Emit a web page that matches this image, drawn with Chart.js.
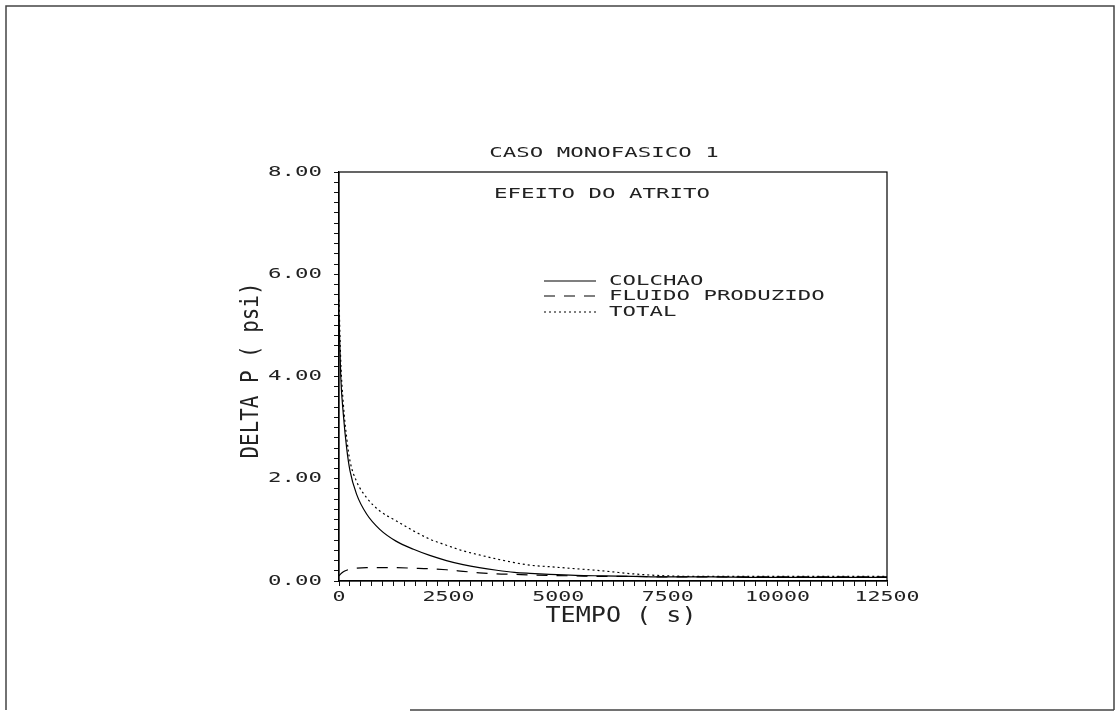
<!DOCTYPE html>
<html>
<head>
<meta charset="utf-8">
<script src="https://cdn.jsdelivr.net/npm/chart.js@4.4.1/dist/chart.umd.min.js"></script>
<style>
  html, body { margin: 0; padding: 0; background: #fff; }
  #wrap { position: relative; width: 1120px; height: 715px; }
</style>
</head>
<body>
<div id="wrap"><canvas id="grafico"></canvas></div>
<script>
// valores (tempo em s, delta P em psi)
var tempo   = [0, 40, 100, 175, 250, 400, 630, 930, 1300, 1700, 2070, 2450, 2830, 3200, 3600, 4000, 4350, 4800, 5400, 6000, 6700, 7500, 8500, 9500, 10500, 11500, 12500];
var colchao = [5.2, 4.0, 3.25, 2.6, 2.16, 1.7, 1.31, 1.01, 0.78, 0.62, 0.5, 0.4, 0.32, 0.26, 0.21, 0.17, 0.15, 0.13, 0.11, 0.10, 0.09, 0.08, 0.08, 0.07, 0.07, 0.07, 0.07];
var fluido  = [0.1, 0.14, 0.18, 0.21, 0.23, 0.25, 0.26, 0.26, 0.26, 0.25, 0.24, 0.22, 0.19, 0.16, 0.14, 0.13, 0.12, 0.11, 0.10, 0.09, 0.09, 0.08, 0.08, 0.08, 0.08, 0.08, 0.08];
var total   = [5.5, 4.3, 3.45, 2.8, 2.35, 1.95, 1.63, 1.37, 1.18, 0.98, 0.82, 0.7, 0.59, 0.51, 0.43, 0.36, 0.31, 0.28, 0.24, 0.2, 0.14, 0.1, 0.09, 0.09, 0.09, 0.09, 0.09];
var nomes   = ['COLCHAO', 'FLUIDO PRODUZIDO', 'TOTAL'];
var xLabels = [0, 2500, 5000, 7500, 10000, 12500];
var yLabels = [0, 2, 4, 6, 8];

var FONTE = '"DejaVu Sans Mono", "Liberation Mono", monospace';

function pontos(vals) {
  return tempo.map(function(t, i) { return { x: t, y: vals[i] }; });
}

// texto "de plotter": fonte mono esticada na horizontal
function escreve(c, txt, x, y, size, sx, rot, align) {
  c.save();
  c.font = size + 'px ' + FONTE;
  c.fillStyle = '#222';
  c.textBaseline = 'middle';
  c.textAlign = align || 'center';
  c.translate(x, y);
  if (rot) c.rotate(rot);
  c.scale(sx, 1);
  c.fillText(txt, 0, 0);
  c.restore();
}

var moldura = {
  id: 'moldura',
  beforeDraw: function(chart) {
    var c = chart.ctx;
    c.save();
    c.strokeStyle = '#444';
    c.lineWidth = 1.5;
    c.beginPath();
    c.moveTo(6, 710); c.lineTo(6, 6); c.lineTo(1114, 6); c.lineTo(1114, 710);
    c.moveTo(410, 710); c.lineTo(1114, 710);
    c.stroke();
    c.restore();
  },
  afterDraw: function(chart) {
    var a = chart.chartArea, c = chart.ctx;
    var sx = chart.scales.x, sy = chart.scales.y;
    c.save();
    c.strokeStyle = '#000';
    c.lineWidth = 1.2;
    c.strokeRect(a.left, a.top, a.right - a.left, a.bottom - a.top);
    c.restore();

    // rotulos dos eixos
    sx.ticks.forEach(function(t) {
      if (xLabels.indexOf(t.value) >= 0)
        escreve(c, String(t.value), sx.getPixelForValue(t.value), a.bottom + 16, 13.5, 1.6);
    });
    sy.ticks.forEach(function(t) {
      var r = Math.round(t.value);
      if (Math.abs(t.value - r) < 1e-6 && yLabels.indexOf(r) >= 0)
        escreve(c, r.toFixed(2), a.left - 17, sy.getPixelForValue(t.value), 14, 1.6, 0, 'right');
    });

    escreve(c, 'CASO MONOFASICO 1', a.left + 265, a.top - 19, 14, 1.6);
    escreve(c, 'EFEITO DO ATRITO', a.left + 263, a.top + 22, 14, 1.6);
    escreve(c, 'DELTA P ( psi)', a.left - 87, (a.top + a.bottom) / 2 - 6, 24, 0.87, -Math.PI / 2);
    escreve(c, 'TEMPO ( s)', a.left + 282, a.bottom + 35, 22, 1.14);

    // legenda dentro da area do grafico
    var rows = [109, 124, 140];
    chart.data.datasets.forEach(function(ds, i) {
      var y = a.top + rows[i];
      c.save();
      c.strokeStyle = '#000';
      c.lineWidth = 1.2;
      c.setLineDash(ds.borderDash || []);
      c.beginPath();
      c.moveTo(a.left + 205, y);
      c.lineTo(a.left + 257, y);
      c.stroke();
      c.restore();
      escreve(c, ds.label, a.left + 270, y, 14, 1.6, 0, 'left');
    });
  }
};

var ctx = document.getElementById('grafico').getContext('2d');

new Chart(ctx, {
  type: 'line',
  data: {
    datasets: [
      { label: nomes[0], data: pontos(colchao), borderColor: '#000', borderWidth: 1.2, borderDash: [] },
      { label: nomes[1], data: pontos(fluido), borderColor: '#000', borderWidth: 1.2, borderDash: [11, 9] },
      { label: nomes[2], data: pontos(total), borderColor: '#000', borderWidth: 1.2, borderDash: [2, 3] }
    ]
  },
  options: {
    responsive: true,
    maintainAspectRatio: false,
    animation: false,
    layout: { padding: { left: 200, right: 233, top: 172, bottom: 94 } },
    elements: {
      point: { radius: 0 },
      line: { cubicInterpolationMode: 'monotone', fill: false }
    },
    plugins: {
      legend: { display: false },
      title: { display: false },
      tooltip: { enabled: false }
    },
    scales: {
      x: {
        type: 'linear',
        min: 0,
        max: 12500,
        afterFit: function(s) { s.height = 40; },
        grid: { drawOnChartArea: false, tickLength: 5, color: '#111' },
        border: { color: '#000', width: 1.2 },
        ticks: { stepSize: 250, autoSkip: false, maxTicksLimit: 100, maxRotation: 0, display: false }
      },
      y: {
        min: 0,
        max: 8,
        afterFit: function(s) { s.width = 139; },
        grid: { drawOnChartArea: false, tickLength: 5, color: '#111' },
        border: { color: '#000', width: 1.2 },
        ticks: { stepSize: 0.2, autoSkip: false, maxTicksLimit: 100, display: false }
      }
    }
  },
  plugins: [moldura]
});
</script>
</body>
</html>
